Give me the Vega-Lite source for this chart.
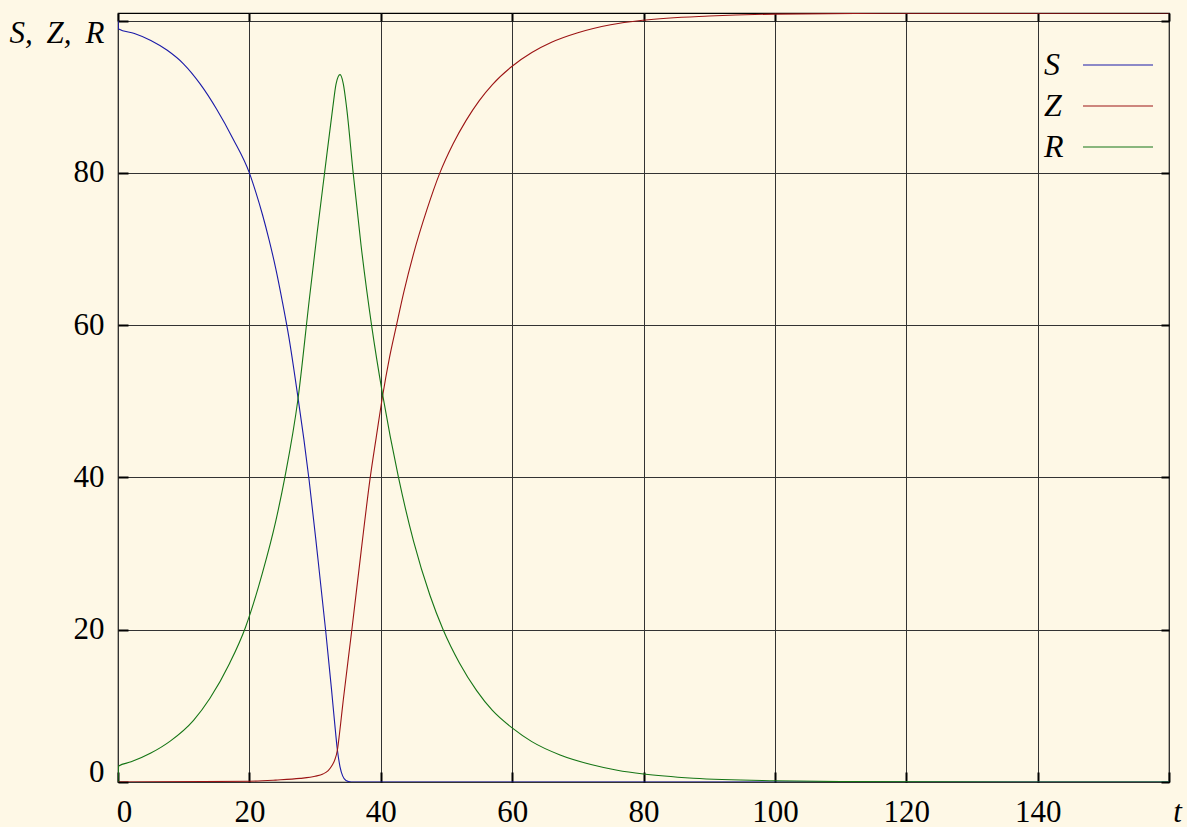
{
  "$schema": "https://vega.github.io/schema/vega-lite/v6.json",
  "width": 1051,
  "height": 769,
  "autosize": {"type": "none"},
  "padding": {"left": 118, "top": 13, "right": 18, "bottom": 45},
  "background": "#fef8e6",
  "config": {
    "view": {"stroke": "black", "strokeWidth": 1.2, "fill": "#fef8e6"},
    "font": "Liberation Serif"
  },
  "data": {
    "values": [
      {"t": 0, "v": 100, "s": "S"},
      {"t": 0.1, "v": 98.9, "s": "S"},
      {"t": 2.5, "v": 98.3, "s": "S"},
      {"t": 5, "v": 97.4, "s": "S"},
      {"t": 7.5, "v": 96.1, "s": "S"},
      {"t": 10, "v": 94.3, "s": "S"},
      {"t": 12.5, "v": 91.7, "s": "S"},
      {"t": 15, "v": 88.4, "s": "S"},
      {"t": 17.5, "v": 84.5, "s": "S"},
      {"t": 20, "v": 80, "s": "S"},
      {"t": 21, "v": 77.4, "s": "S"},
      {"t": 22, "v": 74.5, "s": "S"},
      {"t": 23, "v": 71.2, "s": "S"},
      {"t": 24, "v": 67.5, "s": "S"},
      {"t": 25, "v": 63.2, "s": "S"},
      {"t": 26, "v": 58.5, "s": "S"},
      {"t": 27.4, "v": 50.5, "s": "S"},
      {"t": 28.3, "v": 45, "s": "S"},
      {"t": 29.1, "v": 39.6, "s": "S"},
      {"t": 30.35, "v": 30, "s": "S"},
      {"t": 31.6, "v": 20, "s": "S"},
      {"t": 32.5, "v": 12.2, "s": "S"},
      {"t": 33.0, "v": 7.6, "s": "S"},
      {"t": 33.4, "v": 4.2, "s": "S"},
      {"t": 33.8, "v": 2, "s": "S"},
      {"t": 34.2, "v": 0.8, "s": "S"},
      {"t": 34.7, "v": 0.2, "s": "S"},
      {"t": 35.5, "v": 0, "s": "S"},
      {"t": 160, "v": 0, "s": "S"},

      {"t": 0, "v": 0, "s": "Z"},
      {"t": 20, "v": 0.1, "s": "Z"},
      {"t": 24, "v": 0.25, "s": "Z"},
      {"t": 27.7, "v": 0.47, "s": "Z"},
      {"t": 30, "v": 0.75, "s": "Z"},
      {"t": 31.2, "v": 1.05, "s": "Z"},
      {"t": 32.0, "v": 1.5, "s": "Z"},
      {"t": 32.6, "v": 2.2, "s": "Z"},
      {"t": 33.0, "v": 2.9, "s": "Z"},
      {"t": 33.4, "v": 4.2, "s": "Z"},
      {"t": 33.7, "v": 6.2, "s": "Z"},
      {"t": 34.0, "v": 8.5, "s": "Z"},
      {"t": 34.3, "v": 10.8, "s": "Z"},
      {"t": 35.6, "v": 20, "s": "Z"},
      {"t": 37, "v": 30.2, "s": "Z"},
      {"t": 38.4, "v": 40, "s": "Z"},
      {"t": 39.3, "v": 45.2, "s": "Z"},
      {"t": 40.3, "v": 50.8, "s": "Z"},
      {"t": 41.3, "v": 55.6, "s": "Z"},
      {"t": 42.4, "v": 60, "s": "Z"},
      {"t": 43.5, "v": 64.3, "s": "Z"},
      {"t": 45, "v": 69.4, "s": "Z"},
      {"t": 47, "v": 75.1, "s": "Z"},
      {"t": 49, "v": 80, "s": "Z"},
      {"t": 51, "v": 83.8, "s": "Z"},
      {"t": 53, "v": 86.9, "s": "Z"},
      {"t": 55, "v": 89.5, "s": "Z"},
      {"t": 57, "v": 91.6, "s": "Z"},
      {"t": 60, "v": 94.0, "s": "Z"},
      {"t": 63, "v": 95.8, "s": "Z"},
      {"t": 66, "v": 97.15, "s": "Z"},
      {"t": 70, "v": 98.4, "s": "Z"},
      {"t": 75, "v": 99.45, "s": "Z"},
      {"t": 80, "v": 100.05, "s": "Z"},
      {"t": 90, "v": 100.6, "s": "Z"},
      {"t": 100, "v": 100.85, "s": "Z"},
      {"t": 120, "v": 100.97, "s": "Z"},
      {"t": 160, "v": 101, "s": "Z"},

      {"t": 0, "v": 0, "s": "R"},
      {"t": 0.1, "v": 2.1, "s": "R"},
      {"t": 2, "v": 2.65, "s": "R"},
      {"t": 5, "v": 3.8, "s": "R"},
      {"t": 8, "v": 5.4, "s": "R"},
      {"t": 11.5, "v": 8.1, "s": "R"},
      {"t": 14, "v": 11, "s": "R"},
      {"t": 17, "v": 15.6, "s": "R"},
      {"t": 19.4, "v": 20.3, "s": "R"},
      {"t": 22, "v": 27.5, "s": "R"},
      {"t": 24, "v": 34.2, "s": "R"},
      {"t": 25.4, "v": 40, "s": "R"},
      {"t": 27.4, "v": 50.3, "s": "R"},
      {"t": 29.1, "v": 63.2, "s": "R"},
      {"t": 30.3, "v": 72, "s": "R"},
      {"t": 31.45, "v": 80, "s": "R"},
      {"t": 32.7, "v": 88.6, "s": "R"},
      {"t": 33.2, "v": 91.7, "s": "R"},
      {"t": 33.8, "v": 92.9, "s": "R"},
      {"t": 34.3, "v": 91.7, "s": "R"},
      {"t": 34.8, "v": 88.6, "s": "R"},
      {"t": 35.8, "v": 80, "s": "R"},
      {"t": 37, "v": 70.5, "s": "R"},
      {"t": 38.6, "v": 60, "s": "R"},
      {"t": 40.3, "v": 50.8, "s": "R"},
      {"t": 42.7, "v": 40, "s": "R"},
      {"t": 45, "v": 31.6, "s": "R"},
      {"t": 47.5, "v": 24.5, "s": "R"},
      {"t": 49.5, "v": 20, "s": "R"},
      {"t": 52, "v": 15.6, "s": "R"},
      {"t": 54.6, "v": 12.0, "s": "R"},
      {"t": 57, "v": 9.4, "s": "R"},
      {"t": 60, "v": 7.1, "s": "R"},
      {"t": 63, "v": 5.3, "s": "R"},
      {"t": 67.3, "v": 3.55, "s": "R"},
      {"t": 72, "v": 2.3, "s": "R"},
      {"t": 76, "v": 1.55, "s": "R"},
      {"t": 80, "v": 1.05, "s": "R"},
      {"t": 87.6, "v": 0.5, "s": "R"},
      {"t": 100, "v": 0.16, "s": "R"},
      {"t": 110, "v": 0.06, "s": "R"},
      {"t": 125, "v": 0.015, "s": "R"},
      {"t": 160, "v": 0, "s": "R"}
    ]
  },
  "layer": [
    {
      "mark": {"type": "line", "strokeWidth": 1.1, "interpolate": "monotone", "clip": true},
      "encoding": {
        "x": {
          "field": "t", "type": "quantitative",
          "scale": {"domain": [0, 160], "nice": false, "zero": false},
          "axis": {
            "orient": "bottom", "title": null, "values": [0, 20, 40, 60, 80, 100, 120, 140, 160],
            "domain": false, "grid": true, "gridColor": "#333", "gridWidth": 1,
            "ticks": true, "tickSize": -10, "tickWidth": 2, "tickColor": "black",
            "labelFlush": false, "labelFontSize": 31, "labelColor": "black",
            "labelPadding": 49, "labelBaseline": "alphabetic",
            "labelExpr": "datum.value == 160 ? 't' : datum.label",
            "labelFontStyle": {"condition": {"test": "datum.value == 160", "value": "italic"}, "value": "normal"},
            "labelOffset": {"condition": [{"test": "datum.value == 0", "value": 6}, {"test": "datum.value == 160", "value": 8}], "value": 0}
          }
        },
        "y": {
          "field": "v", "type": "quantitative",
          "scale": {"domain": [0, 101], "nice": false, "zero": false},
          "axis": {
            "orient": "left", "title": null, "values": [0, 20, 40, 60, 80, 100],
            "domain": false, "grid": true, "gridColor": "#333", "gridWidth": 1,
            "ticks": true, "tickSize": -10, "tickWidth": 2, "tickColor": "black",
            "labelFlush": false, "labelFontSize": 31, "labelColor": "black",
            "labelPadding": 24, "labelBaseline": "middle",
            "labelExpr": "datum.value == 100 ? 'S,\u2009 Z,\u2009 R' : datum.label",
            "labelFontStyle": {"condition": {"test": "datum.value == 100", "value": "italic"}, "value": "normal"},
            "labelOffset": {"condition": [{"test": "datum.value == 0", "value": -10}, {"test": "datum.value == 100", "value": 13}], "value": 0}
          }
        },
        "color": {
          "field": "s", "type": "nominal",
          "scale": {"domain": ["S", "Z", "R"], "range": ["#1a1aa8", "#9c1414", "#157515"]},
          "legend": {
            "title": null, "orient": "none", "legendX": 984, "legendY": 36,
            "symbolType": "M-10,0H10", "symbolSize": 49, "symbolStrokeWidth": 1.2,
            "labelFontSize": 32, "labelFontStyle": "italic", "labelColor": "black",
            "labelOffset": -90, "rowPadding": 9, "padding": 0
          }
        }
      }
    },
    {
      "mark": {"type": "line", "opacity": 0},
      "encoding": {
        "x": {
          "field": "t", "type": "quantitative",
          "axis": {
            "orient": "top", "title": null, "values": [0, 20, 40, 60, 80, 100, 120, 140, 160],
            "domain": false, "grid": false, "labels": false,
            "ticks": true, "tickSize": -8, "tickWidth": 2, "tickColor": "black"
          }
        },
        "y": {
          "field": "v", "type": "quantitative",
          "axis": {
            "orient": "right", "title": null, "values": [0, 20, 40, 60, 80, 100],
            "domain": false, "grid": false, "labels": false,
            "ticks": true, "tickSize": -8, "tickWidth": 2, "tickColor": "black"
          }
        },
        "detail": {"field": "s"}
      }
    }
  ],
  "resolve": {"axis": {"x": "independent", "y": "independent"}}
}
